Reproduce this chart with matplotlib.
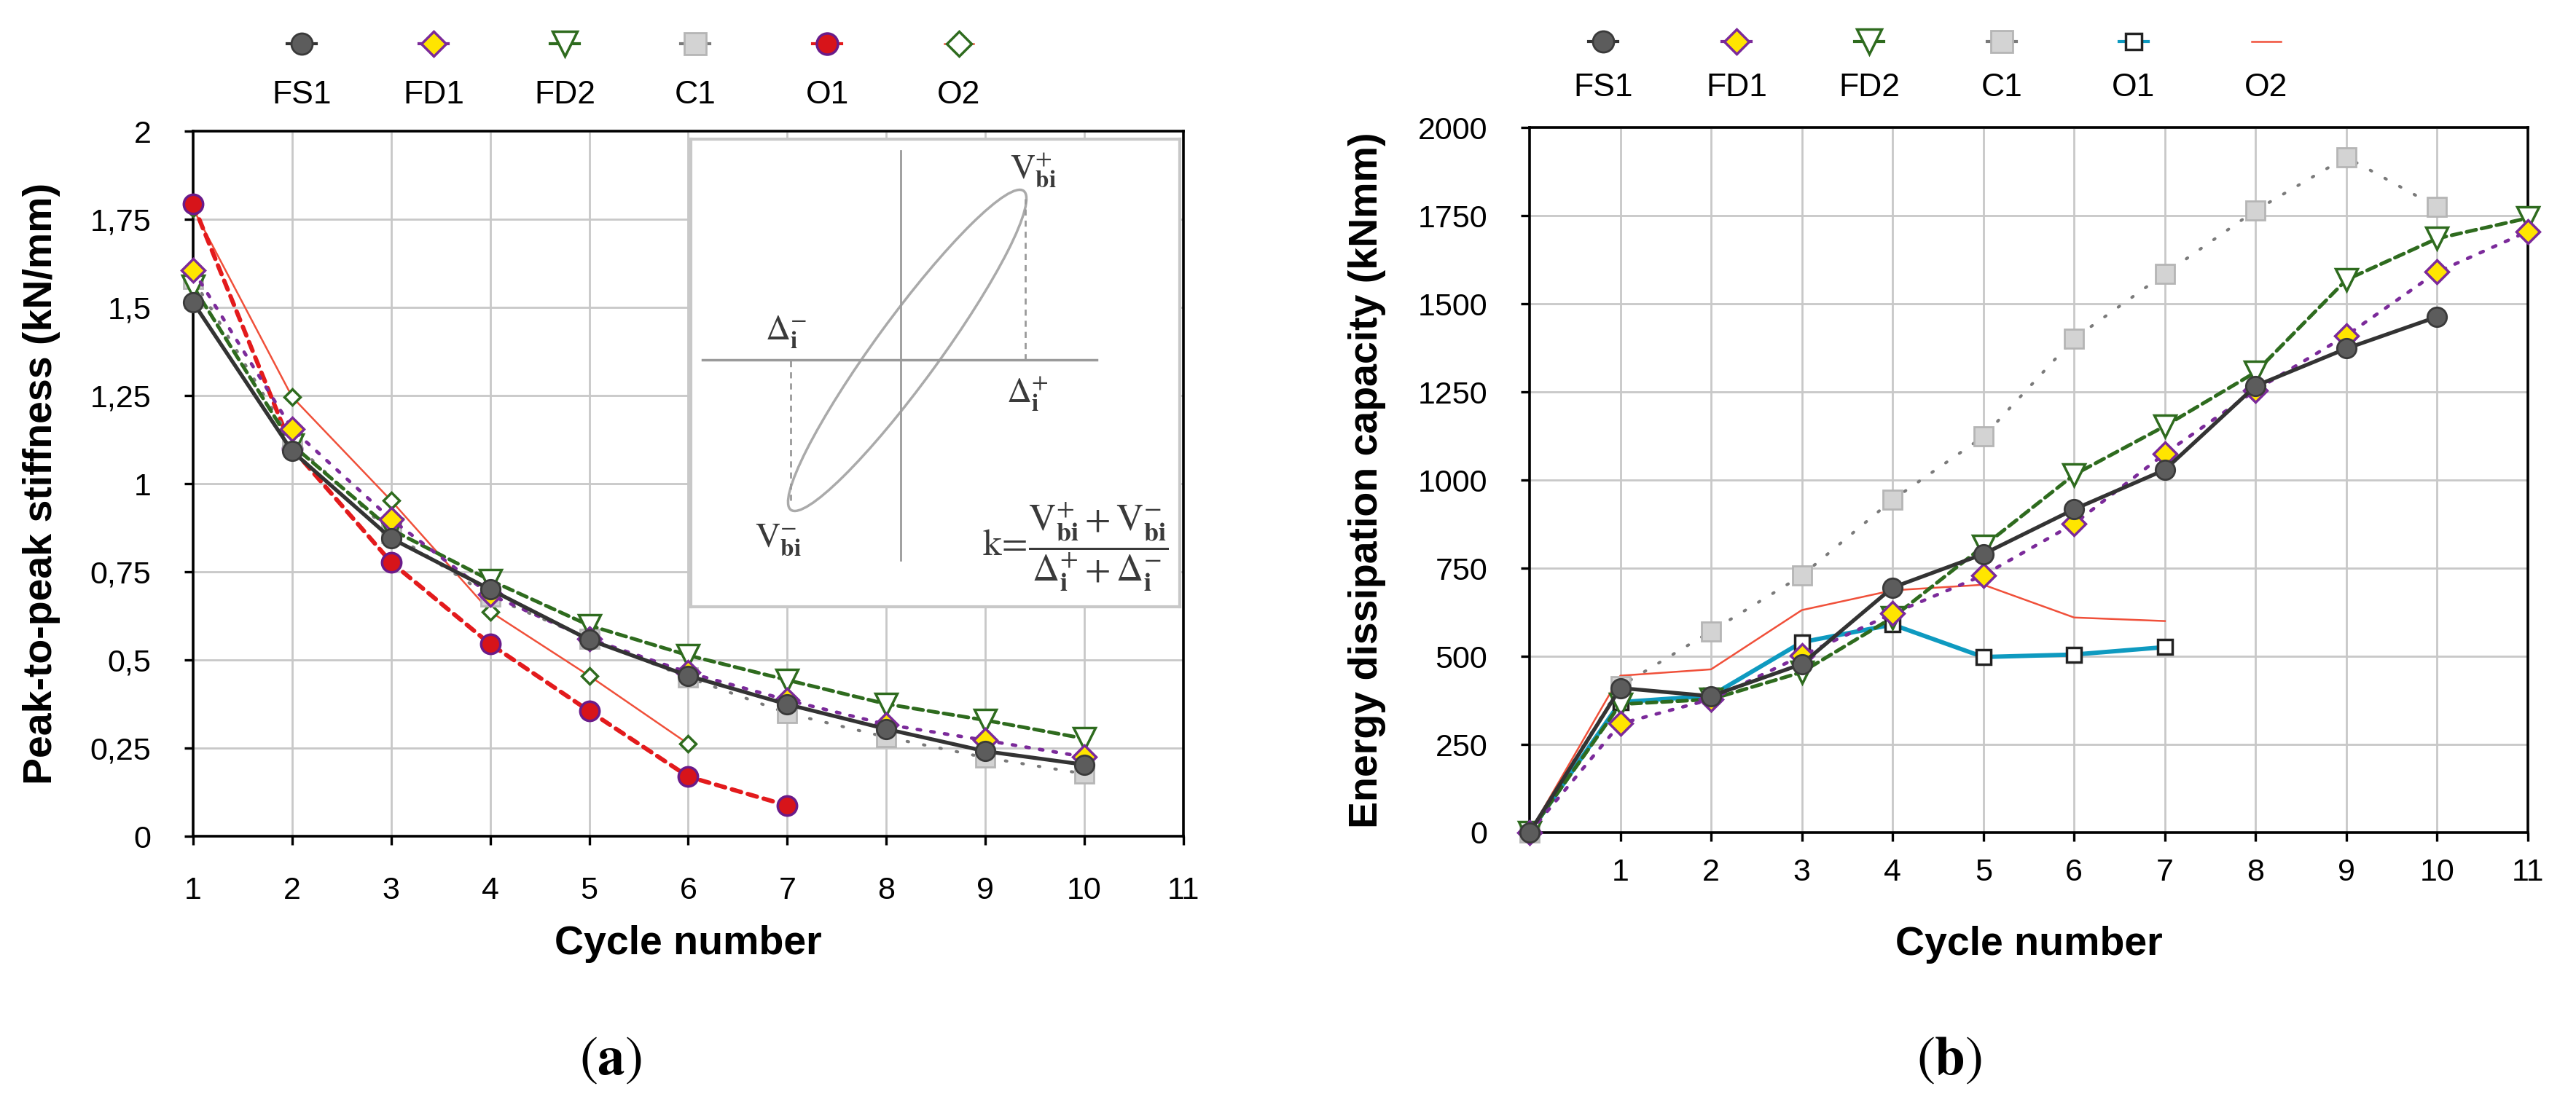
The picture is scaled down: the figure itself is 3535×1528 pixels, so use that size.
import numpy as np
import matplotlib.pyplot as plt
from matplotlib.patches import Ellipse
from matplotlib.lines import Line2D

plt.rcParams['font.family'] = ['Liberation Sans', 'DejaVu Sans']
plt.rcParams['mathtext.fontset'] = 'stix'

series = ["FS1", "FD1", "FD2", "C1", "O1", "O2"]

# (a) peak-to-peak stiffness (kN/mm) vs cycle number
cycles_a = [1, 2, 3, 4, 5, 6, 7, 8, 9, 10]
cycles_a_o1 = [1, 2, 3, 4, 5, 6, 7]
cycles_a_o2 = [1, 2, 3, 4, 5, 6]
stiff_fs1 = [1.514, 1.092, 0.845, 0.700, 0.557, 0.455, 0.374, 0.304, 0.241, 0.203]
stiff_fd1 = [1.605, 1.155, 0.899, 0.685, 0.560, 0.464, 0.386, 0.317, 0.272, 0.225]
stiff_fd2 = [1.560, 1.110, 0.870, 0.726, 0.598, 0.513, 0.443, 0.375, 0.329, 0.277]
stiff_c1 = [1.580, 1.120, 0.860, 0.680, 0.560, 0.450, 0.349, 0.281, 0.223, 0.177]
stiff_o1 = [1.793, 1.100, 0.777, 0.545, 0.355, 0.169, 0.087]
stiff_o2 = [1.780, 1.246, 0.952, 0.637, 0.455, 0.262]
yticks_a = [0, 0.25, 0.5, 0.75, 1, 1.25, 1.5, 1.75, 2]
ytick_labels_a = ["0", "0,25", "0,5", "0,75", "1", "1,25", "1,5", "1,75", "2"]

# (b) energy dissipation capacity (kNmm) vs cycle number
cycles_b_fs1 = [0, 1, 2, 3, 4, 5, 6, 7, 8, 9, 10]
cycles_b_fd = [0, 1, 2, 3, 4, 5, 6, 7, 8, 9, 10, 11]
cycles_b_c1 = [0, 1, 2, 3, 4, 5, 6, 7, 8, 9, 10]
cycles_b_o = [0, 1, 2, 3, 4, 5, 6, 7]
energy_fs1 = [0, 410, 387, 478, 695, 790, 917, 1029, 1267, 1373, 1463]
energy_fd1 = [0, 309, 378, 502, 621, 730, 876, 1075, 1255, 1410, 1590, 1705]
energy_fd2 = [0, 364, 378, 455, 610, 812, 1015, 1153, 1306, 1568, 1685, 1743]
energy_c1 = [0, 415, 571, 729, 944, 1123, 1401, 1585, 1765, 1916, 1774]
energy_o1 = [0, 370, 388, 540, 590, 498, 505, 526]
energy_o2 = [0, 445, 463, 631, 687, 703, 610, 600]
yticks_b = [0, 250, 500, 750, 1000, 1250, 1500, 1750, 2000]

xticks = [1, 2, 3, 4, 5, 6, 7, 8, 9, 10, 11]

# line / marker styles
green = "#2e6b1e"
purple = "#7b2a9a"
style_a = {
    "FS1": dict(color="#333333", lw=3.8, ls="-", marker="o", ms=19, mfc="#5c5c5c", mec="#3a3a3a", mew=2, zorder=9),
    "FD1": dict(color=purple, lw=3.4, ls=(0, (1, 3)), marker="D", ms=16, mfc="#ffe500", mec=purple, mew=2.5, zorder=8),
    "FD2": dict(color=green, lw=3.6, ls=(0, (2.7, 1.5)), marker="v", ms=22, mfc="white", mec=green, mew=2.5, zorder=7),
    "C1": dict(color="#7a7a7a", lw=3, ls=(0, (0.5, 5)), marker="s", ms=19, mfc="#d3d3d3", mec="#b5b5b5", mew=2, zorder=6),
    "O1": dict(color="#e31a1c", lw=4.3, ls=(0, (2.2, 1.6)), marker="o", ms=19, mfc="#d7141a", mec="#6a1b8a", mew=2.5, zorder=5),
    "O2": dict(color="#f0503a", lw=1.8, ls="-", marker="D", ms=11, lms=16, mfc="white", mec=green, mew=2.5, zorder=4),
}
style_b = dict(style_a)
style_b["O1"] = dict(color="#0e9ac0", lw=4.3, ls="-", marker="s", ms=15, mfc="white", mec="#222222", mew=2.5, zorder=5)
style_b["O2"] = dict(color="#f0503a", lw=1.8, ls="-", marker="None", zorder=4)

W, H = 3535, 1528
fig = plt.figure(figsize=(W / 100, H / 100), dpi=100)


def fig_box(left, top, right, bottom):
    return [left / W, 1 - bottom / H, (right - left) / W, (bottom - top) / H]


def plot_series(ax, x, y, st):
    ax.plot(x, y, color=st["color"], lw=st["lw"], ls=st["ls"], marker=st["marker"],
            ms=st.get("ms", 0), mfc=st.get("mfc"), mec=st.get("mec"), mew=st.get("mew", 1),
            zorder=st["zorder"], clip_on=False, dash_capstyle="round")


def style_axes(ax):
    ax.set_axisbelow(True)
    ax.grid(True, color="#c8c8c8", lw=2)
    for s in ax.spines.values():
        s.set_linewidth(2.6)
        s.set_color("black")
    ax.tick_params(axis="both", direction="out", length=8.5, width=2.4, labelsize=31, color="black")


def draw_legend(xs, y_mark, y_text, styles):
    for name, xp in zip(series, xs):
        st = styles[name]
        fx = xp / W
        fy = 1 - y_mark / H
        dx = 20 / W
        seg = Line2D([fx - dx, fx + dx], [fy, fy], transform=fig.transFigure, color=st["color"],
                     lw=min(st["lw"], 3), ls="-")
        fig.add_artist(seg)
        if st["marker"] != "None":
            mk = Line2D([fx], [fy], transform=fig.transFigure, ls="None", marker=st["marker"],
                        ms=st.get("lms", st["ms"]) * 1.1, mfc=st["mfc"], mec=st["mec"], mew=st["mew"])
            fig.add_artist(mk)
        fig.text(fx, 1 - y_text / H, name, ha="center", va="center", fontsize=32)


# ---------------- (a) ----------------
ax_a = fig.add_axes(fig_box(265, 180, 1624, 1148))
style_axes(ax_a)
plot_series(ax_a, cycles_a_o2, stiff_o2, style_a["O2"])
plot_series(ax_a, cycles_a_o1, stiff_o1, style_a["O1"])
plot_series(ax_a, cycles_a, stiff_c1, style_a["C1"])
plot_series(ax_a, cycles_a, stiff_fd2, style_a["FD2"])
plot_series(ax_a, cycles_a, stiff_fd1, style_a["FD1"])
plot_series(ax_a, cycles_a, stiff_fs1, style_a["FS1"])
ax_a.set_xlim(1, 11)
ax_a.set_ylim(0, 2)
ax_a.set_xticks(xticks)
ax_a.set_yticks(yticks_a)
ax_a.set_yticklabels(ytick_labels_a)
ax_a.tick_params(axis="x", pad=31)
ax_a.tick_params(axis="y", pad=33)
ax_a.set_xlabel("Cycle number", fontsize=40, fontweight="bold")
ax_a.xaxis.label.set_verticalalignment("center")
ax_a.xaxis.set_label_coords(0.5, -0.153)
ax_a.set_ylabel("Peak-to-peak stiffness (kN/mm)", fontsize=40, fontweight="bold")
ax_a.yaxis.label.set_verticalalignment("center")
ax_a.yaxis.set_label_coords(-0.153, 0.5)

# inset: hysteresis loop schematic
ax_in = fig.add_axes(fig_box(948, 191, 1619, 833))
ax_in.set_xlim(0, 671)
ax_in.set_ylim(0, 642)
ax_in.set_xticks([])
ax_in.set_yticks([])
for s in ax_in.spines.values():
    s.set_color("#c8c8c8")
    s.set_linewidth(3)
ink = "#9a9a9a"
ax_in.plot([288, 288], [64, 626], color=ink, lw=2)
ax_in.plot([16, 557], [339, 339], color=ink, lw=2.5)
ax_in.add_patch(Ellipse((297, 352), 542, 88, angle=53.9, fill=False, ec="#aaaaaa", lw=2.5))
ax_in.plot([459, 459], [339, 560], color=ink, lw=2, ls=(0, (3, 2.5)))
ax_in.plot([137, 137], [146, 339], color=ink, lw=2, ls=(0, (3, 2.5)))
txt = "#3a3a3a"
ax_in.text(470, 600, r"$\mathrm{V}_{\mathbf{bi}}^{+}$", fontsize=34, color=txt, ha="center", va="center")
ax_in.text(131, 377, r"$\Delta_{\mathbf{i}}^{-}$", fontsize=34, color=txt, ha="center", va="center")
ax_in.text(462, 292, r"$\Delta_{\mathbf{i}}^{+}$", fontsize=34, color=txt, ha="center", va="center")
ax_in.text(120, 92, r"$\mathrm{V}_{\mathbf{bi}}^{-}$", fontsize=34, color=txt, ha="center", va="center")
ax_in.text(528, 82, r"$\mathrm{k}\!=\!\dfrac{\mathrm{V}_{\mathbf{bi}}^{+}+\mathrm{V}_{\mathbf{bi}}^{-}}{\Delta_{\mathbf{i}}^{+}+\Delta_{\mathbf{i}}^{-}}$",
           fontsize=37, color=txt, ha="center", va="center")

# ---------------- (b) ----------------
ax_b = fig.add_axes(fig_box(2099, 175, 3469, 1143))
style_axes(ax_b)
plot_series(ax_b, cycles_b_o, energy_o2, style_b["O2"])
plot_series(ax_b, cycles_b_o, energy_o1, style_b["O1"])
plot_series(ax_b, cycles_b_c1, energy_c1, style_b["C1"])
plot_series(ax_b, cycles_b_fd, energy_fd2, style_b["FD2"])
plot_series(ax_b, cycles_b_fd, energy_fd1, style_b["FD1"])
plot_series(ax_b, cycles_b_fs1, energy_fs1, style_b["FS1"])
ax_b.set_xlim(0, 11)
ax_b.set_ylim(0, 2000)
ax_b.set_xticks(xticks)
ax_b.set_yticks(yticks_b)
ax_b.tick_params(axis="x", pad=17)
ax_b.tick_params(axis="y", pad=33)
ax_b.set_xlabel("Cycle number", fontsize=40, fontweight="bold")
ax_b.xaxis.label.set_verticalalignment("center")
ax_b.xaxis.set_label_coords(0.5, -0.159)
ax_b.set_ylabel("Energy dissipation capacity (kNmm)", fontsize=40, fontweight="bold")
ax_b.yaxis.label.set_verticalalignment("center")
ax_b.yaxis.set_label_coords(-0.163, 0.5)

# legends (marker above label)
draw_legend([414, 595, 775, 954, 1135, 1316], 60, 130, style_a)
draw_legend([2200, 2383, 2565, 2747, 2928, 3110], 57, 120, style_b)

# panel captions
fig.text(838 / W, 1 - 1455 / H, r"$(\mathbf{a})$", fontsize=54, ha="center", va="center")
fig.text(2675 / W, 1 - 1455 / H, r"$(\mathbf{b})$", fontsize=54, ha="center", va="center")

fig.savefig("out.png", dpi=100, facecolor="white")
